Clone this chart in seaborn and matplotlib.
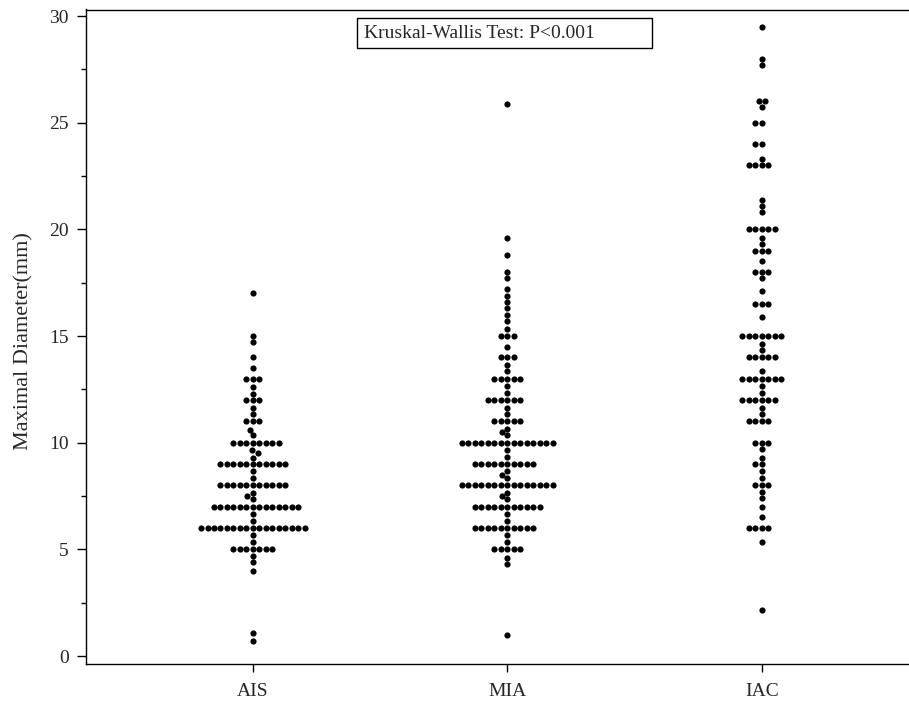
import numpy as np
import pandas as pd
import matplotlib
matplotlib.use("Agg")
import matplotlib.pyplot as plt
from matplotlib.patches import Rectangle
from matplotlib.ticker import MultipleLocator
import seaborn as sns

# ---------------- data ----------------
categories = ["AIS", "MIA", "IAC"]

ais_values = [
    17.0,
    15.0, 14.7,
    14.0, 13.5,
    13.0, 13.0, 13.0,
    12.6, 12.3,
    12.0, 12.0, 12.0,
    11.65, 11.35,
    11.0, 11.0, 11.0,
    10.6, 10.35,
    10.0, 10.0, 10.0, 10.0, 10.0, 10.0, 10.0, 10.0,
    9.65, 9.5, 9.3,
    9.0, 9.0, 9.0, 9.0, 9.0, 9.0, 9.0, 9.0, 9.0, 9.0, 9.0,
    8.65, 8.35,
    8.0, 8.0, 8.0, 8.0, 8.0, 8.0, 8.0, 8.0, 8.0, 8.0, 8.0,
    7.65, 7.5, 7.35,
    7.0, 7.0, 7.0, 7.0, 7.0, 7.0, 7.0, 7.0, 7.0, 7.0, 7.0, 7.0, 7.0, 7.0,
    6.65, 6.35,
    6.0, 6.0, 6.0, 6.0, 6.0, 6.0, 6.0, 6.0, 6.0, 6.0, 6.0, 6.0, 6.0, 6.0,
    6.0, 6.0, 6.0,
    5.65, 5.35,
    5.0, 5.0, 5.0, 5.0, 5.0, 5.0, 5.0,
    4.7, 4.4, 4.0,
    1.1, 0.7,
]

mia_values = [
    25.9,
    19.6, 18.8, 18.0, 17.7, 17.2, 16.9, 16.6, 16.3, 16.0, 15.7, 15.35,
    15.0, 15.0, 15.0,
    14.5,
    14.0, 14.0, 14.0,
    13.65, 13.35,
    13.0, 13.0, 13.0, 13.0, 13.0,
    12.65, 12.35,
    12.0, 12.0, 12.0, 12.0, 12.0, 12.0,
    11.65, 11.35,
    11.0, 11.0, 11.0, 11.0, 11.0,
    10.65, 10.5, 10.35,
    10.0, 10.0, 10.0, 10.0, 10.0, 10.0, 10.0, 10.0, 10.0, 10.0, 10.0, 10.0,
    10.0, 10.0, 10.0,
    9.65, 9.35,
    9.0, 9.0, 9.0, 9.0, 9.0, 9.0, 9.0, 9.0, 9.0, 9.0,
    8.65, 8.5, 8.35,
    8.0, 8.0, 8.0, 8.0, 8.0, 8.0, 8.0, 8.0, 8.0, 8.0, 8.0, 8.0, 8.0, 8.0,
    8.0,
    7.65, 7.5, 7.35,
    7.0, 7.0, 7.0, 7.0, 7.0, 7.0, 7.0, 7.0, 7.0, 7.0, 7.0,
    6.65, 6.35,
    6.0, 6.0, 6.0, 6.0, 6.0, 6.0, 6.0, 6.0, 6.0, 6.0,
    5.65, 5.35,
    5.0, 5.0, 5.0, 5.0, 5.0,
    4.6, 4.3,
    1.0,
]

iac_values = [
    29.5,
    28.0, 27.7,
    26.0, 26.0, 25.75,
    25.0, 25.0,
    24.0, 24.0,
    23.3, 23.0, 23.0, 23.0, 23.0,
    21.4, 21.1, 20.8,
    20.0, 20.0, 20.0, 20.0, 20.0,
    19.6, 19.3,
    19.0, 19.0, 19.0,
    18.5,
    18.0, 18.0, 18.0, 17.7,
    17.1,
    16.5, 16.5, 16.5,
    15.9,
    15.0, 15.0, 15.0, 15.0, 15.0, 15.0, 15.0,
    14.65, 14.35,
    14.0, 14.0, 14.0, 14.0, 14.0,
    13.35,
    13.0, 13.0, 13.0, 13.0, 13.0, 13.0, 13.0,
    12.65, 12.35,
    12.0, 12.0, 12.0, 12.0, 12.0, 12.0,
    11.65, 11.35,
    11.0, 11.0, 11.0, 11.0,
    10.0, 10.0, 10.0,
    9.7,
    9.3, 9.0, 9.0,
    8.65, 8.35,
    8.0, 8.0, 8.0,
    7.7, 7.4,
    7.0,
    6.5,
    6.0, 6.0, 6.0, 6.0,
    5.35,
    2.15,
]

y_ticks = [0, 5, 10, 15, 20, 25, 30]
y_label = "Maximal Diameter(mm)"
test_text = "Kruskal-Wallis Test: P<0.001"

df = pd.DataFrame({
    "group": (["AIS"] * len(ais_values) + ["MIA"] * len(mia_values)
              + ["IAC"] * len(iac_values)),
    "value": ais_values + mia_values + iac_values,
})

# ---------------- style ----------------
sns.set_style("ticks")
plt.rcParams["font.family"] = ["Liberation Serif", "DejaVu Serif"]

W, H = 909, 706
fig = plt.figure(figsize=(W / 100, H / 100), dpi=100)
ax_left, ax_bottom_px, ax_top_px = 86, 664, 9.5
ax = fig.add_axes([ax_left / W, (H - ax_bottom_px) / H,
                   (W - ax_left) / W, (ax_bottom_px - ax_top_px) / H])

ax.set_xlim(-0.656, 2.578)
ax.set_ylim(-0.375, 30.31)

sns.swarmplot(data=df, x="group", y="value", order=categories,
              color="black", size=4.45, linewidth=0, ax=ax, zorder=3)

ax.set_xlim(-0.656, 2.578)
ax.set_ylim(-0.375, 30.31)

ax.set_yticks(y_ticks)
ax.yaxis.set_minor_locator(MultipleLocator(2.5))
ax.set_xticks(range(len(categories)))
ax.set_xticklabels(categories)

ax.tick_params(axis="both", which="major", direction="out", length=6.5,
               width=1.0, color="black", labelsize=14, pad=6)
ax.tick_params(axis="y", which="minor", direction="out", length=3.8,
               width=1.0, color="black")
ax.tick_params(axis="x", which="major", length=6, pad=8)

for side in ["left", "bottom", "top"]:
    ax.spines[side].set_visible(True)
    ax.spines[side].set_linewidth(1.0)
    ax.spines[side].set_color("black")
ax.spines["right"].set_visible(False)

ax.set_xlabel("")
ax.set_ylabel(y_label, fontsize=16)
ax.yaxis.set_label_coords(-0.064, 0.494)
ax.grid(False)

# annotation box
bx0, by0, bx1, by1 = 357, 18, 652, 48
fig.patches.append(Rectangle((bx0 / W, 1 - by1 / H), (bx1 - bx0) / W,
                             (by1 - by0) / H, transform=fig.transFigure,
                             fill=True, facecolor="white", edgecolor="black",
                             linewidth=1.0, zorder=5))
fig.text(364 / W, 1 - 33 / H, test_text, fontsize=14, ha="left",
         va="center", zorder=6)

fig.savefig("out.png", dpi=100)
